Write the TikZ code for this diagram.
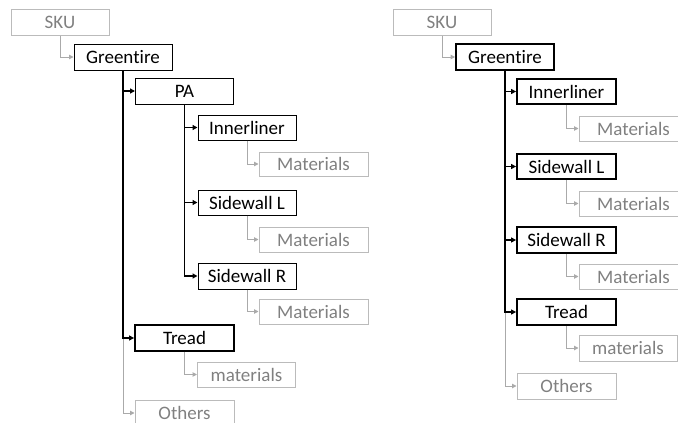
\documentclass[tikz,border=0pt]{standalone}
\usepackage{fontspec}
\setmainfont{Carlito}[Ligatures={NoCommon}]
\usetikzlibrary{arrows.meta}
\definecolor{boxgray}{HTML}{BBBBBB}
\definecolor{txtgray}{HTML}{808080}
\definecolor{linegray}{HTML}{AAAAAA}
\begin{document}
\begin{tikzpicture}[x=1pt,y=-1pt,
  base/.style={draw,rectangle,inner sep=0pt,minimum width=98pt,minimum height=26pt,font=\fontsize{19}{21}\selectfont},
  blackbox/.style={base,draw=black,line width=1pt,text=black},
  thickbox/.style={base,draw=black,line width=1.8pt,text=black},
  graybox/.style={base,draw=boxgray,line width=1pt,text=txtgray},
  matbox/.style={graybox,minimum width=109pt,minimum height=25pt},
  blink/.style={draw=black,line width=1.5pt,-{Triangle[length=5pt,width=5pt]}},
  glink/.style={draw=linegray,line width=1pt,-{Triangle[length=4.5pt,width=4.5pt]}}]
\clip (0,0) rectangle (678,423);
% left tree
\node[graybox] (lsku) at (60,22) {SKU};
\node[blackbox] (lgt) at (123,57) {Greentire};
\node[blackbox] (lpa) at (184.5,91) {PA};
\node[blackbox,minimum height=25pt] (linn) at (247,127.5) {Innerliner};
\node[matbox,minimum height=24pt] (lm1) at (313.5,164) {Materials};
\node[blackbox,minimum height=25pt] (lswl) at (247,202.5) {Sidewall L};
\node[matbox] (lm2) at (313.5,239.5) {Materials};
\node[blackbox] (lswr) at (247,276) {Sidewall R};
\node[matbox] (lm3) at (313.5,311.5) {Materials};
\node[thickbox,minimum width=99pt] (ltr) at (184.5,338) {Tread};
\node[graybox,minimum height=25pt] (lm4) at (246.5,374.5) {materials};
\node[graybox,minimum width=99pt] (loth) at (184.5,413) {Others};
\draw[glink] (lsku.south) |- (lgt.west);
\draw[glink] (linn.south) |- (lm1.west);
\draw[glink] (lswl.south) |- (lm2.west);
\draw[glink] (lswr.south) |- (lm3.west);
\draw[glink] (ltr.south) |- (lm4.west);
\draw[glink] (lgt.south |- ltr.west) |- (loth.west);
\draw[blink] (lgt.south) |- (lpa.west);
\draw[blink] (lgt.south) |- (ltr.west);
\draw[blink] (lpa.south) |- (linn.west);
\draw[blink] (lpa.south) |- (lswl.west);
\draw[blink] (lpa.south) |- (lswr.west);
% right tree
\node[graybox] (rsku) at (442,22) {SKU};
\node[thickbox] (rgt) at (505,57) {Greentire};
\node[thickbox,minimum width=99pt,minimum height=25pt] (rinn) at (566.5,91.5) {Innerliner};
\node[matbox] (rm1) at (633.5,128.5) {Materials};
\node[thickbox,minimum width=99pt,minimum height=25pt] (rswl) at (566.5,166.5) {Sidewall L};
\node[matbox] (rm2) at (633.5,203.5) {Materials};
\node[thickbox,minimum width=99pt] (rswr) at (566.5,240) {Sidewall R};
\node[matbox] (rm3) at (633.5,276.5) {Materials};
\node[thickbox,minimum width=99pt] (rtr) at (566.5,312) {Tread};
\node[graybox] (rm4) at (628,348) {materials};
\node[graybox,minimum width=99pt] (roth) at (566.5,386) {Others};
\draw[glink] (rsku.south) |- (rgt.west);
\draw[glink] (rinn.south) |- (rm1.west);
\draw[glink] (rswl.south) |- (rm2.west);
\draw[glink] (rswr.south) |- (rm3.west);
\draw[glink] (rtr.south) |- (rm4.west);
\draw[glink] (rgt.south |- rtr.west) |- (roth.west);
\draw[blink] (rgt.south) |- (rinn.west);
\draw[blink] (rgt.south) |- (rswl.west);
\draw[blink] (rgt.south) |- (rswr.west);
\draw[blink] (rgt.south) |- (rtr.west);
\end{tikzpicture}
\end{document}
